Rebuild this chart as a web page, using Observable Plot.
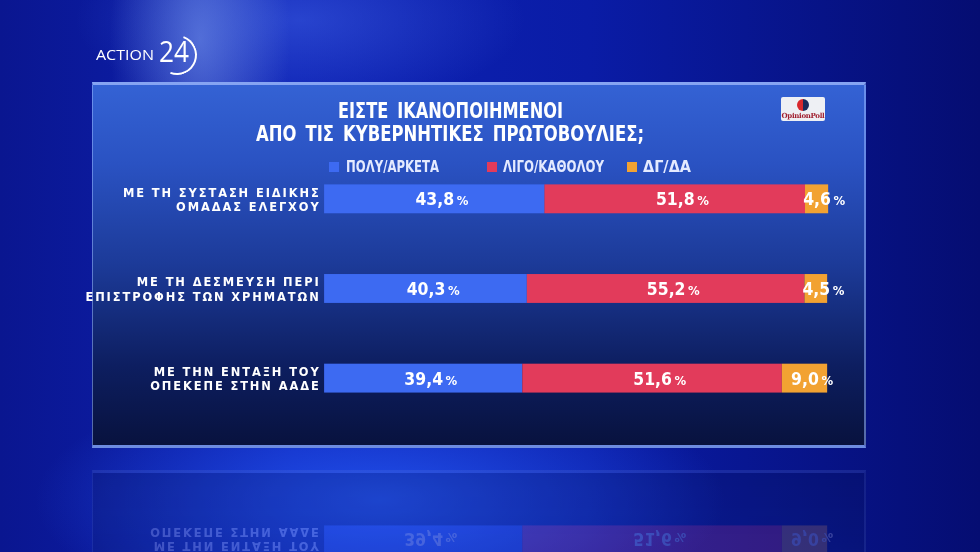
<!DOCTYPE html>
<html><head><meta charset="utf-8">
<script src="https://cdn.jsdelivr.net/npm/d3@7"></script>
<script src="https://cdn.jsdelivr.net/npm/@observablehq/plot@0.6"></script>
<style>
html,body{margin:0;padding:0;width:980px;height:552px;overflow:hidden;background:#0a1a9a;}
#stage{position:relative;width:980px;height:552px;overflow:hidden;
 background:
  radial-gradient(ellipse 120px 260px at 200px 40px, rgba(150,185,255,0.45), rgba(150,185,255,0) 75%),
  radial-gradient(ellipse 300px 120px at 300px 20px, rgba(90,130,255,0.35), rgba(90,130,255,0) 75%),
  radial-gradient(ellipse 460px 170px at 380px 500px, rgba(40,95,255,0.75), rgba(40,95,255,0) 75%),
  linear-gradient(90deg, #0a1690 0%, #0d22b4 30%, #0a1ca6 60%, #050d72 100%);}
.cond{font-family:"DejaVu Sans Condensed","Liberation Sans Narrow","DejaVu Sans",sans-serif;font-weight:bold;}
#panel{position:absolute;left:92px;top:82px;width:774px;height:366px;box-sizing:border-box;
 border-top:3px solid #86a4f2;border-bottom:3px solid #6d8ce0;
 border-left:1px solid rgba(150,180,255,.55);border-right:2px solid rgba(150,180,255,.55);
 background:linear-gradient(180deg,#3462d4 0%,#2a52c2 22%,#1c3a98 50%,#0d1e60 78%,#08123e 100%);
 -webkit-box-reflect: below 22px linear-gradient(to bottom, rgba(0,0,0,0.26), rgba(0,0,0,0.18));}
.fit{position:absolute;white-space:nowrap;transform-origin:left top;color:#fff;line-height:1;}
.sq{position:absolute;width:10px;height:10px;}
#chart{position:absolute;left:0;top:69px;}
#badge{position:absolute;left:688px;top:12px;width:44px;height:24px;background:#eef0f4;border-radius:2px;}
#badge .dot{position:absolute;left:16px;top:2px;width:12px;height:12px;border-radius:50%;
 background:linear-gradient(90deg,#d8282c 50%,#1c2a5a 50%);}
#badge .txt{position:absolute;left:0;width:44px;top:14px;text-align:center;font-family:"DejaVu Serif",serif;font-size:7px;font-weight:bold;color:#a02030;letter-spacing:-0.3px;}
#logo .a{font-family:"Open Sans","DejaVu Sans",sans-serif;font-weight:400;}
#logo .n{font-family:"Open Sans","DejaVu Sans",sans-serif;font-weight:400;}
#ring{position:absolute;left:157px;top:35px;width:36px;height:36px;border-radius:50%;border:2.5px solid #fff;border-left-color:transparent;border-top-color:transparent;transform:rotate(-25deg);}
</style></head>
<body>
<div id="stage">
  <div id="logo">
    <div class="fit a" data-w="58" style="left:96px;top:48px;font-size:14px;">ACTION</div>
    <div class="fit n" data-w="30" style="left:159px;top:36px;font-size:30px;">24</div>
    <div id="ring"></div>
  </div>
  <div id="panel">
    <div class="fit cond" data-w="225" style="left:245px;top:15px;font-size:22px;word-spacing:4px;">ΕΙΣΤΕ ΙΚΑΝΟΠΟΙΗΜΕΝΟΙ</div>
    <div class="fit cond" data-w="388" style="left:163px;top:38px;font-size:22px;word-spacing:4px;">ΑΠΟ ΤΙΣ ΚΥΒΕΡΝΗΤΙΚΕΣ ΠΡΩΤΟΒΟΥΛΙΕΣ;</div>
    <div id="badge"><div class="dot"></div><div class="txt">OpinionPoll</div></div>
    <div id="legend"></div>
    <div id="chart"></div>
  </div>
</div>
<script>
const categories = [
  "ΜΕ ΤΗ ΣΥΣΤΑΣΗ ΕΙΔΙΚΗΣ\nΟΜΑΔΑΣ ΕΛΕΓΧΟΥ",
  "ΜΕ ΤΗ ΔΕΣΜΕΥΣΗ ΠΕΡΙ\nΕΠΙΣΤΡΟΦΗΣ ΤΩΝ ΧΡΗΜΑΤΩΝ",
  "ΜΕ ΤΗΝ ΕΝΤΑΞΗ ΤΟΥ\nΟΠΕΚΕΠΕ ΣΤΗΝ ΑΑΔΕ"
];
const series = ["ΠΟΛΥ/ΑΡΚΕΤΑ", "ΛΙΓΟ/ΚΑΘΟΛΟΥ", "ΔΓ/ΔΑ"];
const polyArketa   = [43.8, 40.3, 39.4];
const ligoKatholou = [51.8, 55.2, 51.6];
const dgDa         = [4.6, 4.5, 9.0];
const seriesColors = ["#3d6af2", "#e23b5b", "#f2a232"];

const seriesValues = [polyArketa, ligoKatholou, dgDa];
const rows = categories.flatMap((c, i) => series.map((s, j) => ({category: c, series: s, value: seriesValues[j][i]})));
const fmt = v => v.toFixed(1).replace(".", ",");
const font = '"DejaVu Sans Condensed","Liberation Sans Narrow","DejaVu Sans",sans-serif';

// legend (HTML, above the svg)
const legendPos = [{sq: 236, tx: 253, w: 93}, {sq: 394, tx: 410, w: 101}, {sq: 534, tx: 550, w: 48}];
const legend = document.getElementById("legend");
series.forEach((s, j) => {
  const sq = document.createElement("div");
  sq.className = "sq";
  sq.style.cssText = `left:${legendPos[j].sq}px;top:77px;background:${seriesColors[j]};`;
  legend.appendChild(sq);
  const t = document.createElement("div");
  t.className = "fit cond";
  t.dataset.w = legendPos[j].w;
  t.style.cssText = `left:${legendPos[j].tx}px;top:75px;font-size:15px;color:#e4eaff;`;
  t.textContent = s;
  legend.appendChild(t);
});

const common = {x: "value", y: "category", order: null};
const pct = {text: () => "%", fontSize: 13, fontWeight: "bold", fill: "white",
  textAnchor: "start", lineAnchor: "bottom", dy: 6};
const chart = Plot.plot({
  width: 774, height: 270,
  marginLeft: 232, marginRight: 37, marginTop: 0, marginBottom: 0,
  style: {background: "transparent", color: "white", fontFamily: font, overflow: "visible"},
  x: {domain: [0, 100], axis: null},
  y: {domain: categories, padding: 0, axis: null},
  color: {domain: series, range: seriesColors},
  marks: [
    Plot.barX(rows, Plot.stackX({...common, fill: "series", insetTop: 30.5, insetBottom: 30.5})),
    Plot.axisY({tickSize: 0, tickPadding: 4, fontSize: 11.5, fontWeight: "bold", fontFamily: '"DejaVu Sans",sans-serif',
      lineHeight: 1.26, fill: "white", label: null}),
    Plot.text(rows, Plot.stackX({...common, text: d => fmt(d.value), fontSize: 17.5, fontWeight: "bold",
      fill: "white", lineAnchor: "bottom", dy: 6})),
    Plot.text(rows, Plot.filter(d => fmt(d.value).length === 4,
      Plot.stackX({...common, ...pct, dx: 22}))),
    Plot.text(rows, Plot.filter(d => fmt(d.value).length === 3,
      Plot.stackX({...common, ...pct, dx: 16.5})))
  ]
});
chart.querySelectorAll('[aria-label="y-axis tick label"] text').forEach(t => t.style.letterSpacing = "1.9px");
document.getElementById("chart").appendChild(chart);

// fit HTML text lines to their measured widths
document.querySelectorAll(".fit[data-w]").forEach(el => {
  const w = el.getBoundingClientRect().width;
  el.style.transform = `scaleX(${(+el.dataset.w) / w})`;
});
</script>
</body></html>
